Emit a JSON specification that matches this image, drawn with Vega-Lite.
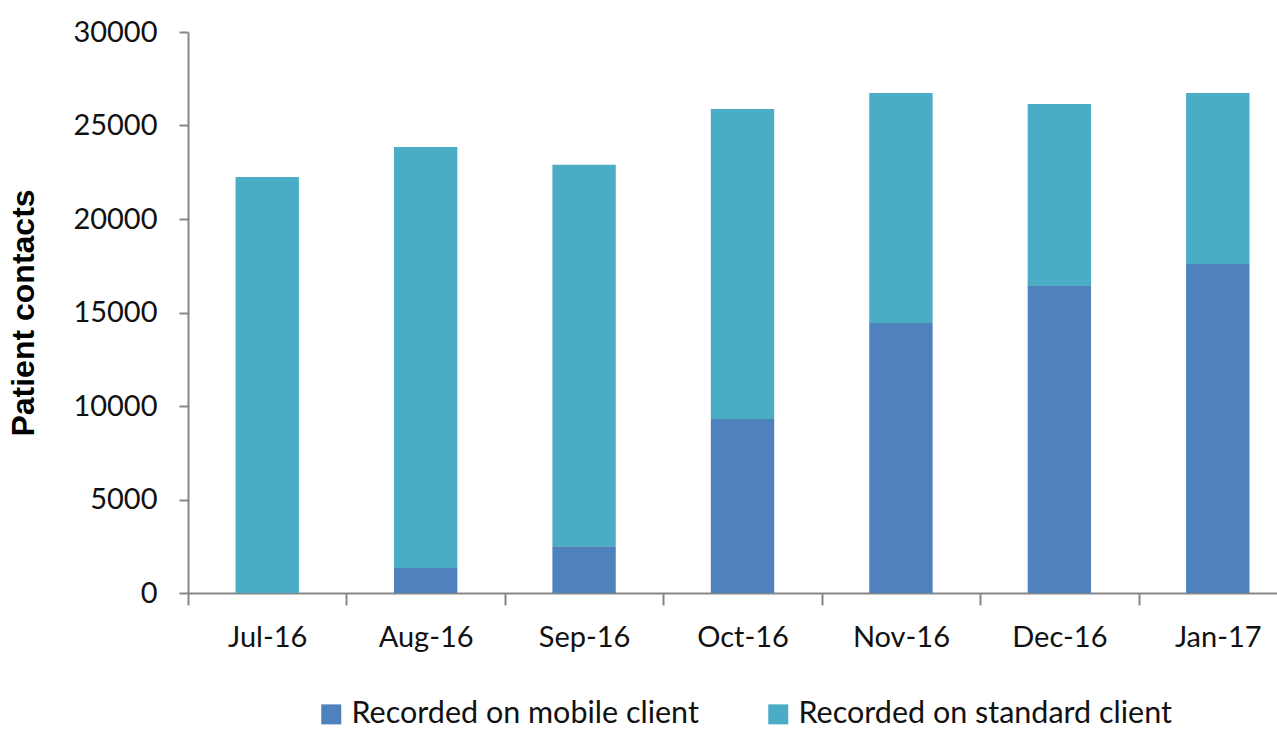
{
  "$schema": "https://vega.github.io/schema/vega-lite/v6.json",
  "width": 1089,
  "height": 561,
  "autosize": {"type": "none"},
  "padding": {"left": 188, "top": 32, "right": 0, "bottom": 139},
  "background": "white",
  "config": {
    "view": {"stroke": null},
    "font": "Lato",
    "axis": {"grid": false, "domainColor": "#878787", "domainWidth": 2, "tickColor": "#878787", "tickWidth": 2, "labelColor": "#111", "labelFont": "Lato", "labelFontSize": 29}
  },
  "data": {
    "values": [
      {"month": "Jul-16", "type": "Recorded on mobile client", "contacts": 0},
      {"month": "Jul-16", "type": "Recorded on standard client", "contacts": 22250},
      {"month": "Aug-16", "type": "Recorded on mobile client", "contacts": 1340},
      {"month": "Aug-16", "type": "Recorded on standard client", "contacts": 22510},
      {"month": "Sep-16", "type": "Recorded on mobile client", "contacts": 2500},
      {"month": "Sep-16", "type": "Recorded on standard client", "contacts": 20400},
      {"month": "Oct-16", "type": "Recorded on mobile client", "contacts": 9300},
      {"month": "Oct-16", "type": "Recorded on standard client", "contacts": 16580},
      {"month": "Nov-16", "type": "Recorded on mobile client", "contacts": 14440},
      {"month": "Nov-16", "type": "Recorded on standard client", "contacts": 12300},
      {"month": "Dec-16", "type": "Recorded on mobile client", "contacts": 16420},
      {"month": "Dec-16", "type": "Recorded on standard client", "contacts": 9730},
      {"month": "Jan-17", "type": "Recorded on mobile client", "contacts": 17600},
      {"month": "Jan-17", "type": "Recorded on standard client", "contacts": 9140}
    ]
  },
  "mark": {"type": "bar", "width": {"band": 0.4}},
  "encoding": {
    "x": {
      "field": "month", "type": "nominal", "sort": null,
      "scale": {"range": [0, 1109], "paddingInner": 0, "paddingOuter": 0},
      "axis": {"title": null, "labelAngle": 0, "tickSize": 12, "tickBand": "extent", "labelPadding": 18}
    },
    "y": {
      "field": "contacts", "type": "quantitative", "aggregate": "sum", "stack": "zero",
      "scale": {"domain": [0, 30000], "nice": false},
      "axis": {"title": "Patient contacts", "titleFont": "Liberation Sans", "titleFontSize": 32, "titleFontWeight": "bold", "titleColor": "#000", "titlePadding": 32, "values": [0, 5000, 10000, 15000, 20000, 25000, 30000], "format": "d", "tickSize": 9, "labelPadding": 22}
    },
    "order": {"field": "type", "sort": "ascending"},
    "color": {
      "field": "type", "type": "nominal",
      "scale": {"domain": ["Recorded on mobile client", "Recorded on standard client"], "range": ["#4F81BD", "#4BACC6"]},
      "legend": {"title": null, "orient": "none", "legendX": 128, "legendY": 667, "direction": "horizontal", "symbolType": "square", "symbolSize": 400, "symbolStrokeWidth": 0, "labelFont": "Lato", "labelFontSize": 30.5, "labelColor": "#111", "labelOffset": 5, "columnPadding": 64, "labelLimit": 600}
    }
  }
}
